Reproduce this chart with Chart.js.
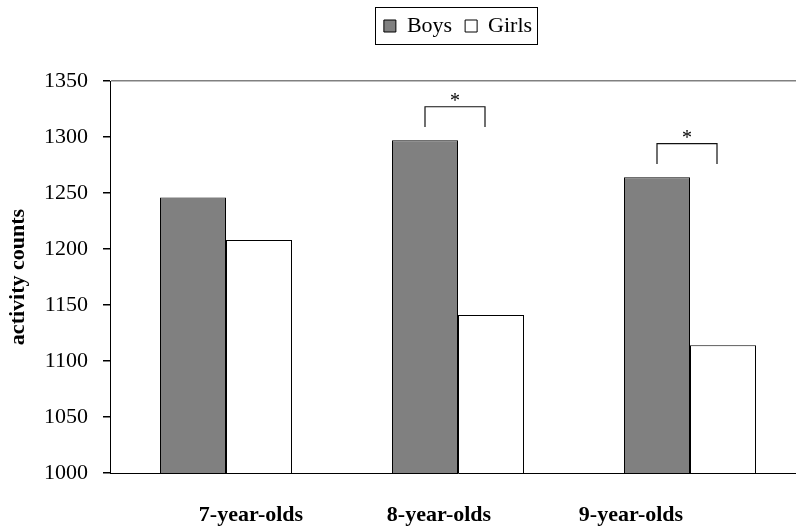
<!DOCTYPE html>
<html>
<head>
<meta charset="utf-8">
<script src="https://cdn.jsdelivr.net/npm/chart.js@4/dist/chart.umd.min.js"></script>
<style>
  html, body { margin: 0; padding: 0; background: #fff; overflow: hidden; }
  #wrap { width: 796px; height: 528px; overflow: hidden; }
</style>
</head>
<body>
<div id="wrap"><canvas id="myChart" width="806" height="528"></canvas></div>
<script>
// data
let ageGroups = ["7-year-olds", "8-year-olds", "9-year-olds"];
let boysCounts = [1246, 1297, 1264];
let girlsCounts = [1208, 1141, 1114];
let significant = [false, true, true];
let yMin = 1000;
let yMax = 1350;
let yStep = 50;

// the category labels in the original sit a bit off the bar groups
let labelShift = [25, -19, -59];
let serif = "'Liberation Serif', 'Times New Roman', serif";

const figureExtras = {
    id: 'figureExtras',
    beforeInit(chart) {
        // push the plot down under the legend like in the original
        const origFit = chart.legend.fit;
        chart.legend.fit = function () {
            origFit.bind(chart.legend)();
            this.height = 79;
        };
    },
    afterDraw(chart) {
        const ctx = chart.ctx;
        const x = chart.scales.x;
        const y = chart.scales.y;

        // legend frame
        const hb = chart.legend.legendHitBoxes;
        if (hb && hb.length) {
            const last = hb[hb.length - 1];
            const cy = hb[0].top + hb[0].height / 2;
            ctx.save();
            ctx.strokeStyle = '#000';
            ctx.lineWidth = 1;
            ctx.strokeRect(Math.round(hb[0].left - 9) + 0.5, Math.round(cy - 19) + 0.5,
                Math.round(last.left + last.width + 5 - (hb[0].left - 9)), 37);
            ctx.restore();
        }

        // category labels
        ctx.save();
        ctx.font = "bold 22px " + serif;
        ctx.fillStyle = '#000';
        ctx.textAlign = 'center';
        ctx.textBaseline = 'alphabetic';
        ageGroups.forEach(function (lab, i) {
            ctx.fillText(lab, x.getPixelForValue(i) + labelShift[i], 521);
        });
        ctx.restore();

        // significance brackets
        const boysMeta = chart.getDatasetMeta(0);
        const girlsMeta = chart.getDatasetMeta(1);
        ctx.save();
        ctx.strokeStyle = '#111';
        ctx.lineWidth = 1.2;
        ctx.fillStyle = '#000';
        ctx.font = "20px " + serif;
        ctx.textAlign = 'center';
        significant.forEach(function (sig, i) {
            if (!sig) return;
            const left = boysMeta.data[i].x;
            const right = girlsMeta.data[i].x - 6;
            const top = y.getPixelForValue(boysCounts[i] + 30);
            const bottom = y.getPixelForValue(boysCounts[i] + 12);
            ctx.beginPath();
            ctx.moveTo(left, bottom);
            ctx.lineTo(left, top);
            ctx.lineTo(right, top);
            ctx.lineTo(right, bottom);
            ctx.stroke();
            ctx.fillText('*', (left + right) / 2, top - 5);
        });
        ctx.restore();
    }
};

document.addEventListener("DOMContentLoaded", function () {
    new Chart("myChart", {
        type: "bar",
        data: {
            labels: ageGroups,
            datasets: [{
                label: 'Boys',
                data: boysCounts,
                backgroundColor: '#808080',
                borderColor: '#000',
                borderWidth: 1,
                borderSkipped: false,
                categoryPercentage: 0.569,
                barPercentage: 1
            }, {
                label: 'Girls',
                data: girlsCounts,
                backgroundColor: '#fff',
                borderColor: '#000',
                borderWidth: 1,
                borderSkipped: false,
                categoryPercentage: 0.569,
                barPercentage: 1
            }]
        },
        options: {
            responsive: false,
            animation: false,
            layout: {
                padding: { top: 2, bottom: 47, left: 0, right: 0 }
            },
            scales: {
                x: {
                    ticks: { display: false },
                    grid: { display: false },
                    border: { display: true, color: '#000', width: 1 }
                },
                y: {
                    min: yMin,
                    max: yMax,
                    afterFit(scale) { scale.width = 110; },
                    ticks: {
                        stepSize: yStep,
                        color: '#000',
                        padding: 15,
                        font: { family: serif, size: 22 },
                        callback: function (v) { return String(v); }
                    },
                    grid: {
                        drawTicks: true,
                        tickLength: 7,
                        tickColor: '#000',
                        color: function (c) {
                            return c.tick && c.tick.value === yMax ? '#808080' : 'rgba(0,0,0,0)';
                        },
                        lineWidth: 1.5
                    },
                    border: { display: true, color: '#000', width: 1 },
                    title: {
                        display: true,
                        text: 'activity counts',
                        color: '#000',
                        padding: { top: 5, bottom: 0 },
                        font: { family: serif, size: 22, weight: 'bold' }
                    }
                }
            },
            plugins: {
                legend: {
                    position: 'top',
                    fullSize: false,
                    labels: {
                        color: '#000',
                        boxWidth: 12,
                        boxHeight: 12,
                        padding: 13,
                        font: { family: serif, size: 22 }
                    }
                },
                tooltip: { enabled: false }
            }
        },
        plugins: [figureExtras]
    });
});
</script>
</body>
</html>
